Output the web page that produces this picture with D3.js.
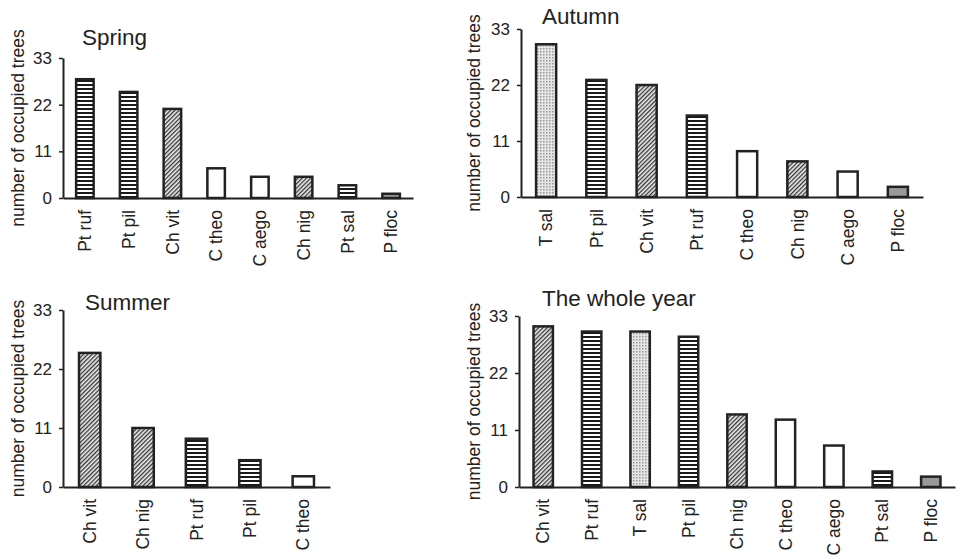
<!DOCTYPE html>
<html>
<head>
<meta charset="utf-8">
<script src="https://cdn.jsdelivr.net/npm/d3@7/dist/d3.min.js"></script>
<style>
  body { margin: 0; background: #fff; }
  svg { display: block; font-family: "Liberation Sans", Arial, sans-serif; }
</style>
</head>
<body>
<svg id="chart" width="960" height="559"></svg>
<script>
'use strict';

// values
const yTicks = [0, 11, 22, 33];

const springSpecies = ["Pt ruf", "Pt pil", "Ch vit", "C theo", "C aego", "Ch nig", "Pt sal", "P floc"];
const springCounts = [28, 25, 21, 7, 5, 5, 3, 1];

const autumnSpecies = ["T sal", "Pt pil", "Ch vit", "Pt ruf", "C theo", "Ch nig", "C aego", "P floc"];
const autumnCounts = [30, 23, 22, 16, 9, 7, 5, 2];

const summerSpecies = ["Ch vit", "Ch nig", "Pt ruf", "Pt pil", "C theo"];
const summerCounts = [25, 11, 9, 5, 2];

const yearSpecies = ["Ch vit", "Pt ruf", "T sal", "Pt pil", "Ch nig", "C theo", "C aego", "Pt sal", "P floc"];
const yearCounts = [31, 30, 30, 29, 14, 13, 8, 3, 2];

const svg = d3.select("#chart");
const ink = "#222";

// fill patterns
const defs = svg.append("defs");

const stripes = defs.append("pattern")
   .attr("id", "stripes")
   .attr("patternUnits", "userSpaceOnUse")
   .attr("width", 8).attr("height", 4);
stripes.append("rect").attr("width", 8).attr("height", 4).attr("fill", "#fff");
stripes.append("rect").attr("width", 8).attr("height", 2).attr("fill", "#1a1a1a");

const hatch = defs.append("pattern")
   .attr("id", "hatch")
   .attr("patternUnits", "userSpaceOnUse")
   .attr("width", 3).attr("height", 3)
   .attr("patternTransform", "rotate(45)");
hatch.append("rect").attr("width", 3).attr("height", 3).attr("fill", "#eee");
hatch.append("rect").attr("width", 1.3).attr("height", 3).attr("fill", "#333");

const dots = defs.append("pattern")
   .attr("id", "dots")
   .attr("patternUnits", "userSpaceOnUse")
   .attr("width", 3).attr("height", 3);
dots.append("rect").attr("width", 3).attr("height", 3).attr("fill", "#e6e6e6");
dots.append("rect").attr("width", 1.5).attr("height", 1.5).attr("fill", "#999");

function fillFor(name) {
   if (name.startsWith("Pt")) return "url(#stripes)";
   if (name.startsWith("Ch")) return "url(#hatch)";
   if (name.startsWith("T ")) return "url(#dots)";
   if (name.startsWith("P ")) return "#999";
   return "#fff";
}

function panel(opts, species, counts) {
   const g = svg.append("g");

   const x = d3.scaleBand()
      .domain(species)
      .range([opts.x0, opts.x1])
      .paddingInner(0.6)
      .paddingOuter(0.3);

   const y = d3.scaleLinear()
      .domain([0, 33])
      .range([opts.y1, opts.y0]);

   const rows = species.map((s, i) => ({ name: s, value: counts[i] }));

   g.selectAll("rect.bar")
      .data(rows)
      .enter()
      .append("rect")
      .attr("class", "bar")
      .attr("x", d => x(d.name))
      .attr("y", d => y(d.value))
      .attr("width", x.bandwidth())
      .attr("height", d => y(0) - y(d.value))
      .attr("fill", d => fillFor(d.name))
      .attr("stroke", ink)
      .attr("stroke-width", 2.5);

   // y axis
   const yAxis = g.append("g")
      .attr("transform", `translate(${opts.x0},0)`)
      .call(d3.axisLeft(y).tickValues(yTicks).tickSizeInner(4).tickSizeOuter(0).tickPadding(7));
   yAxis.select(".domain").attr("stroke", ink).attr("stroke-width", 2);
   yAxis.selectAll(".tick line").attr("stroke", ink).attr("stroke-width", 1.5);
   yAxis.selectAll("text")
      .attr("fill", ink)
      .style("font-size", "17px");

   // x axis
   const xAxis = g.append("g")
      .attr("transform", `translate(0,${opts.y1})`)
      .call(d3.axisBottom(x).tickSize(0).tickPadding(0));
   xAxis.select(".domain").attr("stroke", ink).attr("stroke-width", 2);
   xAxis.selectAll("text")
      .attr("fill", ink)
      .style("font-size", "17.5px")
      .style("text-anchor", "end")
      .attr("transform", "rotate(-90)")
      .attr("x", -12)
      .attr("y", 0)
      .attr("dy", "0.35em");

   g.append("text")
      .attr("x", opts.tx)
      .attr("y", opts.ty)
      .attr("fill", ink)
      .style("font-size", "22.5px")
      .text(opts.title);

   g.append("text")
      .attr("transform", `translate(${opts.lx},${(opts.y0 + opts.y1) / 2}) rotate(-90)`)
      .attr("text-anchor", "middle")
      .attr("fill", ink)
      .style("font-size", "17.5px")
      .text("number of occupied trees");
}

panel({ title: "Spring", x0: 63, x1: 413, y0: 58, y1: 198, tx: 82, ty: 45, lx: 24 }, springSpecies, springCounts);
panel({ title: "Autumn", x0: 521, x1: 923, y0: 29, y1: 197, tx: 542, ty: 24, lx: 480 }, autumnSpecies, autumnCounts);
panel({ title: "Summer", x0: 63, x1: 330, y0: 310, y1: 487, tx: 85, ty: 310, lx: 24 }, summerSpecies, summerCounts);
panel({ title: "The whole year", x0: 519, x1: 955, y0: 316, y1: 487, tx: 542, ty: 306, lx: 480 }, yearSpecies, yearCounts);
</script>
</body>
</html>
